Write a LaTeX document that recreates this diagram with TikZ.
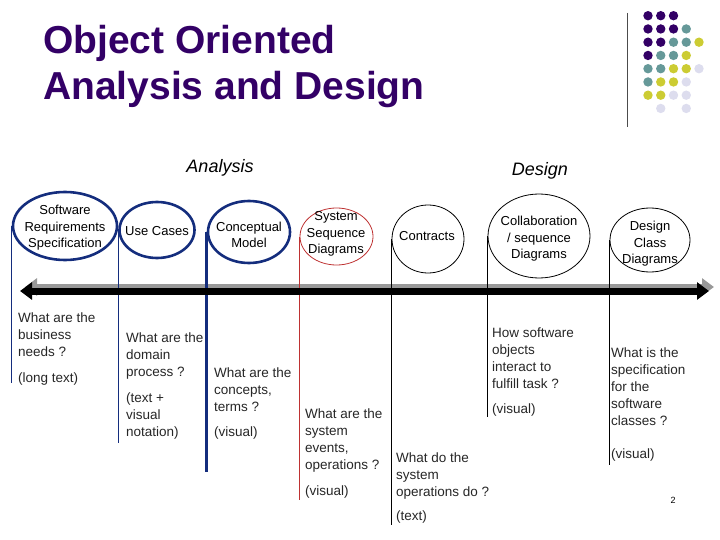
\documentclass[tikz,border=0pt]{standalone}
\usepackage{fontspec}
\setmainfont{Liberation Sans}
\usepackage{tikz}
\usetikzlibrary{arrows.meta, shapes.geometric}
\definecolor{titlepurple}{RGB}{51,0,102}
\definecolor{ovalblue}{RGB}{20,45,125}
\definecolor{ssdred}{RGB}{190,50,50}
\definecolor{dotteal}{RGB}{102,153,153}
\definecolor{dotyellow}{RGB}{204,204,51}
\definecolor{dotlilac}{RGB}{221,221,238}
\definecolor{shadowgray}{RGB}{153,153,153}

\begin{document}
\begin{tikzpicture}[x=1pt, y=-1pt,
    oval/.style={draw, ellipse, inner sep=0pt, line width=0.8pt},
    analysisoval/.style={oval, draw=ovalblue, line width=2.6pt},
    ovaltext/.style={align=center, inner sep=0pt, font=\fontsize{13}{16.5}\selectfont},
    note/.style={anchor=north west, align=left, inner sep=0pt, text=black!85, font=\fontsize{13.5}{17}\selectfont},
    phase/.style={font=\fontsize{18}{20}\selectfont\itshape},
    marker/.style={line width=0.8pt},
    timeline/.style={line width=7pt, arrows={Triangle[length=12pt,width=17pt]-Triangle[length=12pt,width=17pt]}}]
    \useasboundingbox (0,0) rectangle (720,540);

    % Title and logo
    \node[anchor=north west, align=left, inner sep=0pt, text=titlepurple, font=\fontsize{39}{46}\selectfont\bfseries] (title) at (43,25) {Object Oriented\\Analysis and Design};
    \draw[line width=0.8pt, black!70] (627,13) -- (627,127);
    \foreach \c/\r/\col in {1/1/titlepurple, 2/1/titlepurple, 3/1/titlepurple,
        1/2/titlepurple, 2/2/titlepurple, 3/2/titlepurple, 4/2/dotteal,
        1/3/titlepurple, 2/3/titlepurple, 3/3/dotteal, 4/3/dotteal, 5/3/dotyellow,
        1/4/titlepurple, 2/4/dotteal, 3/4/dotteal, 4/4/dotyellow,
        1/5/dotteal, 2/5/dotteal, 3/5/dotyellow, 4/5/dotyellow, 5/5/dotlilac,
        1/6/dotteal, 2/6/dotyellow, 3/6/dotyellow, 4/6/dotlilac,
        1/7/dotyellow, 2/7/dotyellow, 3/7/dotlilac, 4/7/dotlilac,
        2/8/dotlilac, 4/8/dotlilac}
        \fill[\col] ({648+12.75*(\c-1)}, {15.7+13.25*(\r-1)}) circle (4.7);

    % Phases
    \node[phase] (analysis) at (220,168) {Analysis};
    \node[phase] (design) at (540,171) {Design};

    % Artifacts
    \node[analysisoval, minimum width=104, minimum height=68] (srs) at (65,226) {};
    \node[ovaltext] at (65,228) {Software\\Requirements\\Specification};

    \node[analysisoval, minimum width=75, minimum height=56] (usecases) at (157,230) {};
    \node[ovaltext] at (157,231) {Use Cases};

    \node[analysisoval, minimum width=82, minimum height=62] (concept) at (249,232) {};
    \node[ovaltext] at (249,235) {Conceptual\\Model};

    \node[oval, draw=ssdred, minimum width=73, minimum height=57] (ssd) at (336.5,236.5) {};
    \node[ovaltext] at (336,234) {System\\Sequence\\Diagrams};

    \node[oval, minimum width=72, minimum height=68] (contracts) at (428,239) {};
    \node[ovaltext] at (427,236) {Contracts};

    \node[oval, minimum width=102, minimum height=84] (collab) at (539,236) {};
    \node[ovaltext] at (539,239) {Collaboration\\/ sequence\\Diagrams};

    \node[oval, minimum width=80, minimum height=64] (dcd) at (650,240) {};
    \node[ovaltext] at (650,244) {Design\\Class\\Diagrams};

    % Timeline and markers
    \coordinate (past) at (20,291);
    \coordinate (future) at (709,291);
    \draw[timeline, draw=shadowgray, fill=shadowgray] ([shift={(5,-4)}]past) -- ([shift={(5,-4)}]future);

    \coordinate (srsend) at (0,383);
    \coordinate (usecasesend) at (0,443);
    \coordinate (conceptend) at (0,472);
    \coordinate (ssdend) at (0,500);
    \coordinate (contractsend) at (0,525);
    \coordinate (collabend) at (0,417);
    \coordinate (dcdend) at (0,465);
    \draw[marker, ovalblue] (srs.west) -- (srs.west |- srsend);
    \draw[marker, ovalblue] (usecases.west) -- (usecases.west |- usecasesend);
    \draw[marker, ovalblue, line width=2.6pt] (concept.west) -- (concept.west |- conceptend);
    \draw[marker, ssdred] (ssd.west) -- (ssd.west |- ssdend);
    \draw[marker] (contracts.west) -- (contracts.west |- contractsend);
    \draw[marker] (collab.west) -- (collab.west |- collabend);
    \draw[marker] (dcd.west) -- (dcd.west |- dcdend);

    \draw[timeline] (past) -- (future);

    % Questions
    \node[note] (needsq) at (18,313) {What are the\\business\\needs ?};
    \node[note] (needsk) at (18,373) {(long text)};
    \node[note] (domainq) at (126,333) {What are the\\domain\\process ?};
    \node[note] (domaink) at (126,393) {(text +\\visual\\notation)};
    \node[note] (termsq) at (214,368) {What are the\\concepts,\\terms ?};
    \node[note] (termsk) at (214,427) {(visual)};
    \node[note] (eventsq) at (305,409) {What are the\\system\\events,\\operations ?};
    \node[note] (eventsk) at (305,486) {(visual)};
    \node[note] (opsq) at (396,453) {What do the\\system\\operations do ?};
    \node[note] (opsk) at (396,511) {(text)};
    \node[note] (interactq) at (492,328) {How software\\objects\\interact to\\fulfill task ?};
    \node[note] (interactk) at (492,404) {(visual)};
    \node[note] (classq) at (611,348) {What is the\\specification\\for the\\software\\classes ?};
    \node[note] (classk) at (611,449) {(visual)};

    \node[font=\fontsize{9}{10}\selectfont] (pagenum) at (673,500) {2};
\end{tikzpicture}
\end{document}
